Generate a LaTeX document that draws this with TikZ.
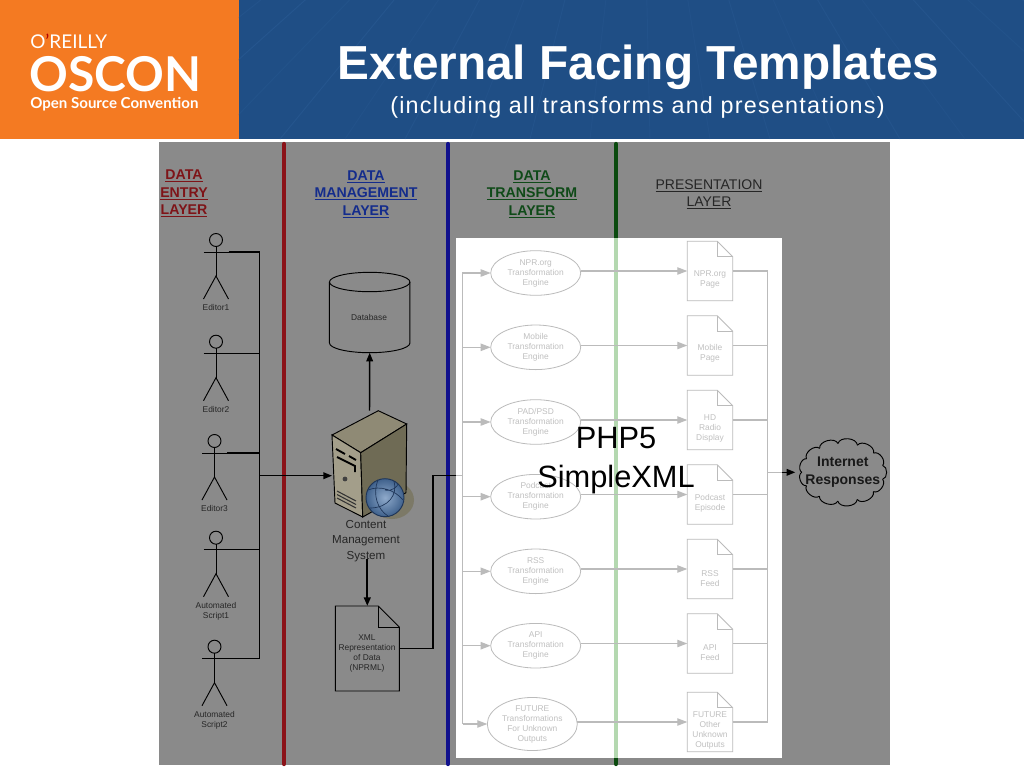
\documentclass[tikz,border=0pt]{standalone}
\usepackage{fontspec}
\setmainfont{Liberation Sans}
\newfontfamily\logofont{Lato}
\newfontfamily\subfont[LetterSpace=5.3]{Liberation Sans}
\usetikzlibrary{arrows.meta,calc,shapes.geometric}
\definecolor{orangeb}{HTML}{F47A22}
\definecolor{blueb}{HTML}{1F4E85}
\definecolor{rayb}{HTML}{2A5B94}
\definecolor{panel}{HTML}{8A8A8A}
\definecolor{redl}{HTML}{8B1218}
\definecolor{bluel}{HTML}{10108C}
\definecolor{greenl}{HTML}{0A4A0E}
\definecolor{greenf}{HTML}{B4D8B0}
\definecolor{pale}{HTML}{BBBBBB}
\definecolor{paletext}{HTML}{C0C0C0}
\definecolor{darktext}{HTML}{262626}
\definecolor{redt}{HTML}{7E1418}
\definecolor{bluet}{HTML}{142C8C}
\definecolor{greent}{HTML}{0F4A18}
\definecolor{srvleft}{HTML}{A39E8A}
\definecolor{srvtop}{HTML}{8F8A75}
\definecolor{srvright}{HTML}{6F6B55}
\definecolor{srvshadow}{HTML}{7C7967}
\definecolor{globein}{HTML}{8FAACB}
\definecolor{globeout}{HTML}{3F618C}
\definecolor{globeline}{HTML}{1E3558}
\tikzset{
  small/.style={font=\fontsize{6.3}{7.5}\selectfont,align=center,inner sep=0pt},
  smalldark/.style={small,text=darktext},
  smallpale/.style={small,text=paletext},
  head/.style={font=\bfseries\fontsize{10.6}{13.1}\selectfont,align=center,inner sep=0pt},
  boxanchor/.style={rectangle,inner sep=0pt,outer sep=0pt,minimum width=#1},
  blackline/.style={draw=black,line width=1.1pt},
  blackthick/.style={draw=black,line width=1.6pt},
  blacktip/.style={-{Triangle[length=6.5pt,width=5pt]}},
  paleline/.style={draw=pale,line width=.95pt},
  paletip/.style={-{Triangle[length=7.5pt,width=5.5pt,fill=pale]}},
  thinblack/.style={draw=black,line width=.7pt},
  thinpale/.style={draw=pale,line width=.6pt},
  engine/.style={ellipse,draw=pale,line width=.6pt,minimum width=90*.75pt,minimum height=44.6*.75pt,inner sep=0pt,outer sep=0pt,small,text=paletext},
  layer/.style={line width=3.2pt,line cap=round},
}
\newcommand{\actor}[5]{% name, x, y, label
  \node[circle,draw=black,line width=.7pt,minimum size=13*.75pt,inner sep=0pt,outer sep=0pt] (#1) at (#2,#3) {};
  \coordinate (#1arm) at ($(#1)+(12.5,12)$);
  \draw[thinblack] (#1.south) -- ($(#1)+(0,36)$);
  \draw[thinblack] ($(#1)+(-12.5,12)$) -- (#1arm);
  \draw[thinblack] ($(#1)+(-12.5,59)$) -- ($(#1)+(0,36)$) -- ($(#1)+(12.5,59)$);
  \node[smalldark,anchor=north] (#1l) at ($(#1)+(0,#5)$) {#4};
}
\newcommand{\docshape}[7]{% name, cx, cy, w, h, line style, fold
  \node[rectangle,inner sep=0pt,outer sep=0pt,minimum width=#4*.75pt,minimum height=#5*.75pt] (#1) at (#2,#3) {};
  \draw[#6] (#1.north west) -- ($(#1.north east)+(-#7,0)$) -- ($(#1.north east)+(0,#7)$) -- (#1.south east) -- (#1.south west) -- cycle;
  \draw[#6] ($(#1.north east)+(-#7,0)$) -- ($(#1.north east)+(-#7,#7)$) -- ($(#1.north east)+(0,#7)$);
}
\newcommand{\row}[7]{% n, ecx, ecy, etext, doccy, dtext, offset
  \node[engine] (e#1) at (#2,#3) {#4};
  \docshape{d#1}{710}{#5}{45.4}{59.5}{thinpale}{15.5}
  \node[smallpale,above] (d#1t) at ($(d#1)+(0,#7)$) {#6};
  \coordinate (b#1) at (463,#3);
  \coordinate (o#1) at (767.7,#5);
  \draw[paleline,paletip] (b#1) -- (e#1.west);
  \draw[paleline,paletip] (d#1.west -| e#1.east) -- (d#1.west);
  \draw[paleline] (d#1.east) -- (o#1);
}
\begin{document}
\begin{tikzpicture}[x=.75pt,y=-.75pt]
\useasboundingbox (0,0) rectangle (1024,768);
\fill[white] (0,0) rectangle (1024,768);
% header
\fill[orangeb] (0,0) rectangle (238.5,139);
\fill[blueb] (238.5,0) rectangle (1024,139);
\begin{scope}
\clip (238.5,0) rectangle (1024,139);
\foreach \xx/\oo in {-60/.5,10/.7,85/.4,150/.6,215/.35,280/.55,345/.3,405/.45,470/.3,530/.4,590/.3,650/.35,710/.3,770/.4,835/.3,900/.45,965/.3,1040/.5,1120/.35,1200/.5,1290/.4}
  \draw[rayb,line width=.7pt,opacity=\oo] (640,-300) -- (\xx,139);
\end{scope}
\node[anchor=base west,inner sep=0pt,text=white,font=\logofont\fontsize{14.2}{15}\selectfont] (oreilly) at (30,48) {O\textcolor{red!70!black}{’}REILLY};
\node[anchor=base west,inner sep=0pt,text=white,font=\logofont\bfseries\fontsize{36}{38}\selectfont] (oscon) at (29,91) {OSCON};
\node[anchor=base west,inner sep=0pt,text=white,font=\logofont\bfseries\fontsize{11.3}{12}\selectfont] (osc) at (30,108) {Open Source Convention};
\node[anchor=base,inner sep=0pt,text=white,font=\bfseries\fontsize{35.8}{38}\selectfont] (title) at (638.5,79) {External Facing Templates};
\node[anchor=base,inner sep=0pt,text=white,font=\subfont\fontsize{17.5}{19}\selectfont] (subtitle) at (637.5,113) {(including all transforms and presentations)};
% panel
\fill[panel] (159,142) rectangle (890,765);
\draw[layer,redl] (284,144) -- (284,764);
\draw[layer,bluel] (448,144) -- (448,764);
\draw[layer,greenl] (616,144) -- (616,764);
\fill[white] (456,238) rectangle (782,758);
\fill[greenf] (614.2,238) rectangle (617.8,758);
% layer titles
\node[head,text=redt] (t1) at (184,193.5) {\underline{DATA}\\\underline{ENTRY}\\\underline{LAYER}};
\node[head,text=bluet] (t2) at (366,194) {\underline{DATA}\\\underline{MANAGEMENT}\\\underline{LAYER}};
\node[head,text=greent] (t3) at (532,194) {\underline{DATA}\\\underline{TRANSFORM}\\\underline{LAYER}};
\node[head,font=\fontsize{10.5}{13}\selectfont,text=black!85] (t4) at (709,194.5) {\underline{PRESENTATION}\\\underline{LAYER}};
% actors
\actor{a1}{216}{240}{Editor1}{64}
\actor{a2}{216}{341.7}{Editor2}{64}
\actor{a3}{214.5}{441}{Editor3}{64}
\actor{a4}{216}{537.7}{Automated\\Script1}{64}
\actor{a5}{214.5}{646.7}{Automated\\Script2}{64}
\coordinate (bustop) at (259.7,252);
\coordinate (busbot) at (259.7,658.7);
\coordinate (busj) at (259.7,475.7);
\draw[blackline] (a1arm) -- (bustop) -- (busbot) -- (a5arm);
\draw[blackline] (a2arm) -- (a2arm -| bustop);
\draw[blackline] (a3arm) -- (a3arm -| bustop);
\draw[blackline] (a4arm) -- (a4arm -| bustop);
% database
\node[boxanchor=80.5*.75pt,minimum height=80*.75pt] (db) at (369.7,312.7) {};
\draw[thinblack] (db.north west |- 0,282) -- (db.north west |- 0,343) arc[start angle=180,end angle=0,x radius=40.25,y radius=9.7] -- (db.north east |- 0,282);
\draw[thinblack] (369.7,282) ellipse [x radius=40.25,y radius=9.7];
\node[smalldark] (dbl) at (369,317.5) {Database};
% server
\node[boxanchor=75*.75pt,minimum height=107*.75pt] (srv) at (369.5,464) {};
\draw[blackline,blacktip] (srv.north) -- (db.south);
\draw[blackline,blacktip] (busj) -- (busj -| srv.west);
\fill[srvshadow] (392,500) ellipse [x radius=22,y radius=19];
\filldraw[draw=black,line width=.7pt,fill=srvtop] (332,435) -- (378.3,410.7) -- (406.7,424) -- (360.7,452.7) -- cycle;
\filldraw[draw=black,line width=.7pt,fill=srvleft] (332,435) -- (360.7,452.7) -- (362.7,517) -- (335,503) -- cycle;
\filldraw[draw=black,line width=.7pt,fill=srvright] (360.7,452.7) -- (406.7,424) -- (406,492.7) -- (362.7,517) -- cycle;
\draw[black,line width=1.4pt] (336,449) -- (345,454) (349,456) -- (356,460);
\draw[black,line width=1.4pt] (337,457) -- (355,466) -- (355,472);
\fill[black!75] (345,479) circle[radius=2.4];
\draw[black!80,line width=.8pt] (337,491) -- (356,501) (337,494.5) -- (356,504.5) (337,498) -- (356,508);
\shade[inner color=globein,outer color=globeout] (385,497.7) circle[radius=19];
\draw[globeline,line width=.7pt] (385,497.7) circle[radius=19];
\draw[globeline,line width=.5pt] (368,490) .. controls (380,485) and (395,490) .. (403,500) (378,480) .. controls (372,495) and (378,510) .. (388,516) (394,481) .. controls (398,495) and (388,508) .. (370,508) (385,490) .. controls (392,492) and (398,486) .. (398,484);
\node[font=\fontsize{8.7}{11.6}\selectfont,align=center,inner sep=0pt,text=darktext] (cms) at (366,541) {Content\\Management\\System};
% XML doc
\docshape{xml}{367.3}{648.5}{64}{85}{thinblack}{21}
\node[smalldark] (xmlt) at (367,653.5) {XML\\Representation\\of Data\\(NPRML)};
\coordinate (cmsout) at (cms.south -| xml.north);
\draw[blackthick,blacktip] ($(cmsout)+(0,-3)$) -- (xml.north);
% gray rows
\coordinate (pj) at (433,475.7);
\coordinate (pw) at (456,475.7);
\coordinate (pb) at (463,475.7);
\draw[paleline] (pw) -- (pb);
\draw[blackline] (xml.east) -| (pj) -- (pw);
\draw[paleline] (462.7,272) -- (462.7,723.5);
\row{1}{535.7}{273}{NPR.org\\Transformation\\Engine}{271}{NPR.org\\Page}{17.5}
\row{2}{535.7}{347.3}{Mobile\\Transformation\\Engine}{345.5}{Mobile\\Page}{17.5}
\row{3}{535.7}{422}{PAD/PSD\\Transformation\\Engine}{420}{HD\\Radio\\Display}{23}
\row{4}{535.7}{496.7}{Podcast\\Transformation\\Engine}{494.5}{Podcast\\Episode}{17.5}
\row{5}{535.7}{571.3}{RSS\\Transformation\\Engine}{569}{RSS\\Feed}{17.5}
\row{6}{535.7}{645.7}{API\\Transformation\\Engine}{643.5}{API\\Feed}{17.5}
\row{7}{532.3}{724}{FUTURE\\Transformations\\For Unknown\\Outputs}{722}{FUTURE\\Other\\Unknown\\Outputs}{27.5}
\coordinate (rt) at (767.7,271);
\coordinate (rb) at (767.7,722);
\draw[paleline] (rt) -- (rb);
% cloud
\node[rectangle,minimum width=95*.75pt,minimum height=69*.75pt,inner sep=0pt,outer sep=0pt,font=\bfseries\fontsize{10.5}{13.3}\selectfont,align=center,text=black!90] (cloud) at (842.8,472.3) {Internet\\Responses};
\foreach \i in {0,...,12}
  \draw[thinblack] ({842.8+41*cos(\i*360/13+14)},{472.3+29*sin(\i*360/13+14)}) to[bend left=80] ({842.8+41*cos((\i+1)*360/13+14)},{472.3+29*sin((\i+1)*360/13+14)});
\coordinate (cstart) at (767.7,472.3);
\coordinate (cmid) at (782,472.3);
\draw[paleline] (cstart) -- (cmid);
\draw[blackline,blacktip] (cmid) -- (cloud.west);
% overlay
\node[font=\fontsize{23.1}{29.2}\selectfont,align=center,inner sep=0pt] (php) at (616,461) {PHP5\\SimpleXML};
\end{tikzpicture}
\end{document}
